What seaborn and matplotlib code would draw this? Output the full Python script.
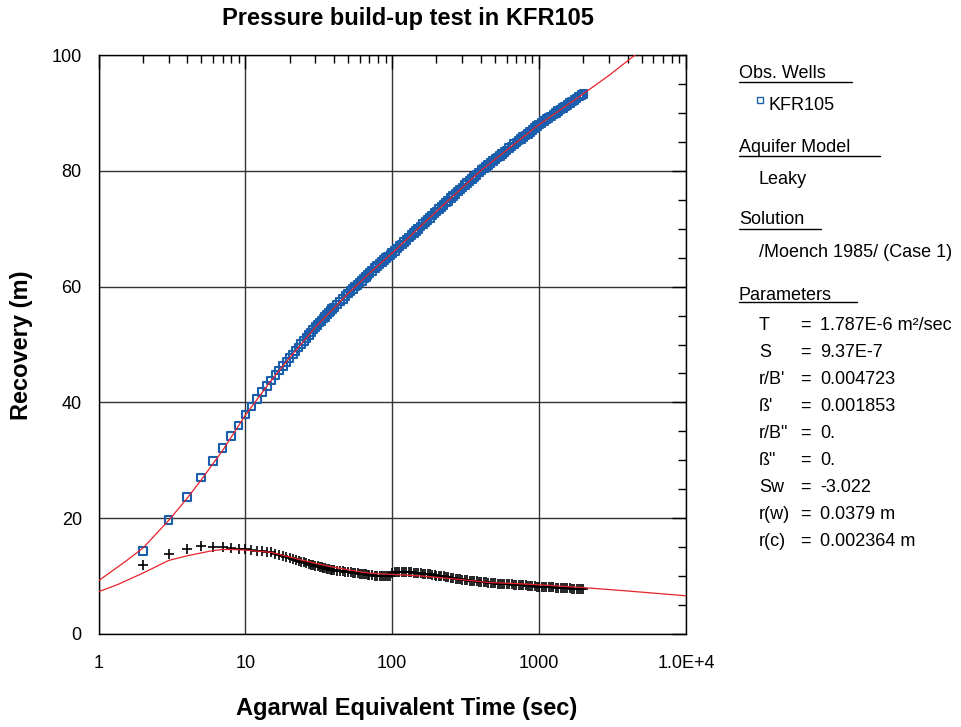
import numpy as np
import pandas as pd
import matplotlib
matplotlib.use("Agg")
import matplotlib.pyplot as plt
import seaborn as sns
from matplotlib.ticker import FixedLocator, LogLocator, MultipleLocator, NullFormatter
from matplotlib.lines import Line2D

# ---------------- data ----------------
obs_time = [2, 3, 4, 5, 6, 7, 8, 9, 10, 11, 12, 13, 14, 15, 16, 17, 18, 19,
            20, 21, 22, 23, 24, 25, 26, 27, 28, 29, 30, 31, 32, 33, 34, 35, 36,
            37, 38, 39, 40, 42, 44, 46, 48, 50, 52, 54, 56, 58, 60, 62, 64, 66,
            68, 70, 73, 76, 79, 82, 85, 88, 91, 94, 97, 100, 104, 108, 112, 116,
            120, 125, 130, 135, 140, 145, 150, 156, 162, 168, 174, 180, 187, 194,
            200, 208, 216, 224, 232, 240, 250, 260, 270, 280, 290, 300, 312, 324,
            336, 348, 360, 375, 390, 405, 420, 435, 450, 468, 486, 504, 522, 540,
            560, 580, 600, 625, 650, 675, 700, 725, 750, 780, 810, 840, 870, 900,
            935, 970, 1000, 1040, 1080, 1120, 1160, 1200, 1250, 1300, 1350, 1400,
            1450, 1500, 1560, 1620, 1680, 1740, 1800, 1870, 1940, 2000]
recovery = [14.3, 19.7, 23.7, 27.0, 29.9, 32.1, 34.2, 36.0, 37.9, 39.3, 40.6, 41.8,
            42.8, 43.8, 44.7, 45.5, 46.3, 47.0,
            47.7, 48.3, 48.9, 49.5, 50.1, 50.6, 51.1, 51.6, 52.1, 52.6, 53.0, 53.4,
            53.8, 54.1, 54.5, 54.8, 55.2, 55.5, 55.8, 56.1, 56.4, 56.9, 57.4, 57.9,
            58.4, 58.8, 59.2, 59.6, 60.0, 60.3, 60.7, 61.0, 61.4, 61.7, 62.0, 62.3,
            62.7, 63.2, 63.6, 63.9, 64.3, 64.6, 64.9, 65.2, 65.5, 65.8, 66.2, 66.6,
            67.0, 67.3, 67.7, 68.1, 68.5, 68.9, 69.3, 69.6, 70.0, 70.4, 70.8, 71.2,
            71.5, 71.9, 72.3, 72.7, 73.0, 73.4, 73.8, 74.1, 74.5, 74.8, 75.3, 75.7,
            76.0, 76.4, 76.8, 77.1, 77.5, 77.9, 78.2, 78.6, 78.9, 79.3, 79.7, 80.1,
            80.4, 80.7, 81.0, 81.3, 81.7, 82.0, 82.3, 82.6, 82.9, 83.2, 83.5, 83.9,
            84.2, 84.6, 84.9, 85.2, 85.5, 85.8, 86.1, 86.4, 86.7, 87.0, 87.4, 87.7,
            88.0, 88.3, 88.6, 88.9, 89.1, 89.4, 89.7, 90.0, 90.3, 90.6, 90.8, 91.1,
            91.4, 91.7, 92.0, 92.2, 92.5, 92.8, 93.1, 93.3]
derivative = [12.0, 13.8, 14.7, 15.2, 15.1, 15.0, 14.8, 14.7, 14.6, 14.5, 14.4, 14.3,
              14.2, 14.1, 13.9, 13.7, 13.5, 13.3,
              13.1, 12.95, 12.8, 12.65, 12.5, 12.35, 12.2, 12.1, 12.0, 11.9, 11.8,
              11.7, 11.6, 11.5, 11.4, 11.35, 11.3, 11.2, 11.1, 11.05, 11.0, 10.95,
              10.9, 10.8, 10.75, 10.7, 10.65, 10.6, 10.5, 10.45, 10.4, 10.35, 10.3,
              10.3, 10.25, 10.2, 10.15, 10.1, 10.0, 10.0, 10.0, 10.0, 10.0, 10.05,
              10.1, 10.6, 10.65, 10.7, 10.7, 10.7, 10.7, 10.7, 10.7, 10.65, 10.6,
              10.55, 10.5, 10.45, 10.4, 10.35, 10.3, 10.3, 10.25, 10.15, 10.1, 10.05,
              10.0, 9.95, 9.9, 9.8, 9.7, 9.6, 9.55, 9.5, 9.45, 9.4, 9.35, 9.3, 9.2,
              9.2, 9.15, 9.1, 9.05, 9.0, 8.95, 8.9, 8.85, 8.8, 8.75, 8.75, 8.7, 8.7,
              8.65, 8.6, 8.6, 8.55, 8.55, 8.5, 8.5, 8.45, 8.45, 8.4, 8.4, 8.35, 8.3,
              8.3, 8.25, 8.2, 8.2, 8.2, 8.15, 8.1, 8.1, 8.1, 8.05, 8.0, 8.0, 8.0,
              7.95, 7.9, 7.9, 7.9, 7.85, 7.8, 7.8, 7.75, 7.75, 7.7]

fit_time = [1, 1.5, 2, 3, 4, 5, 7, 10, 15, 20, 30, 50, 70, 100, 150, 200, 300,
            400, 700, 1000, 1500, 2000, 3000, 4500, 10000]
fit_recovery = [9.2, 12.4, 14.8, 19.6, 23.4, 26.6, 31.7, 37.8, 43.8, 47.7, 53.0,
                58.8, 62.3, 65.8, 70.0, 73.0, 77.1, 80.0, 84.9, 88.0, 91.1, 93.3,
                96.5, 100.0, 106.0]

dfit_time = [1, 1.34, 2, 3, 4, 5, 6, 7, 8, 10, 15, 20, 23, 30, 39, 50, 65, 80, 100,
             130, 160, 200, 265, 350, 450, 700, 1000, 1800, 3700, 10000]
fit_derivative = [7.3, 8.5, 10.5, 12.7, 13.5, 14.0, 14.4, 14.6, 14.6, 14.5, 14.1,
                  13.3, 12.9, 12.2, 11.6, 11.1, 10.6, 10.4, 10.3, 10.15, 10.0, 9.8,
                  9.5, 9.2, 8.9, 8.7, 8.5, 8.1, 7.5, 6.6]

x_tick_values = [1, 10, 100, 1000, 10000]
x_tick_labels = ["1", "10", "100", "1000", "1.0E+4"]
y_tick_values = [0, 20, 40, 60, 80, 100]

title = "Pressure build-up test in KFR105"
x_label = "Agarwal Equivalent Time (sec)"
y_label = "Recovery (m)"

panel_headers = ["Obs. Wells", "Aquifer Model", "Solution", "Parameters"]
well_name = "KFR105"
aquifer_model = "Leaky"
solution_name = "/Moench 1985/ (Case 1)"
param_names = ["T", "S", "r/B'", "ß'", 'r/B"', 'ß"', "Sw", "r(w)", "r(c)"]
param_values = ["1.787E-6 m\u00b2/sec", "9.37E-7", "0.004723", "0.001853", "0.",
                "0.", "-3.022", "0.0379 m", "0.002364 m"]

# ---------------- style ----------------
sns.set_style("white")
plt.rcParams['font.family'] = ['Liberation Sans', 'DejaVu Sans']
plt.rcParams['text.color'] = 'black'
plt.rcParams['axes.labelcolor'] = 'black'
plt.rcParams['xtick.color'] = 'black'
plt.rcParams['ytick.color'] = 'black'

BLUE = "#1a5fae"
RED = "#e8222a"
W, H = 962, 727

fig = plt.figure(figsize=(W / 100, H / 100), dpi=100)
L, R, T, B = 98.5, 686, 55, 634
ax = fig.add_axes([L / W, 1 - B / H, (R - L) / W, (B - T) / H])
ax.set_xscale("log")

obs = pd.DataFrame({"t": obs_time, "s": recovery, "d": derivative})
fit1 = pd.DataFrame({"t": fit_time, "s": fit_recovery})
fit2 = pd.DataFrame({"t": dfit_time, "d": fit_derivative})

sns.scatterplot(data=obs, x="t", y="s", ax=ax, marker="s", s=30,
                facecolor="none", edgecolor=BLUE, linewidth=1.5, legend=False, zorder=3)
sns.scatterplot(data=obs, x="t", y="d", ax=ax, marker="+", s=50,
                color="black", linewidth=1.2, legend=False, zorder=3)
sns.lineplot(data=fit1, x="t", y="s", ax=ax, color=RED, lw=0.9,
             estimator=None, sort=False, zorder=4)
sns.lineplot(data=fit2, x="t", y="d", ax=ax, color=RED, lw=0.9,
             estimator=None, sort=False, zorder=4)

ax.set_xlim(1, 10000)
ax.set_ylim(0, 100)
ax.xaxis.set_major_locator(FixedLocator(x_tick_values))
ax.set_xticklabels(x_tick_labels)
ax.xaxis.set_minor_locator(LogLocator(base=10, subs=np.arange(2, 10)))
ax.xaxis.set_minor_formatter(NullFormatter())
ax.yaxis.set_major_locator(FixedLocator(y_tick_values))
ax.yaxis.set_minor_locator(MultipleLocator(5))
ax.set_xlabel("")
ax.set_ylabel("")

ax.set_axisbelow(True)
ax.grid(True, which="major", color="#333333", lw=1.0)
ax.tick_params(which="both", direction="in", top=True, right=True,
               colors="black", width=1.0, labelsize=13)
ax.tick_params(which="major", length=10)
ax.tick_params(which="minor", length=5.5)
ax.tick_params(axis="x", pad=15)
ax.tick_params(axis="y", pad=12)
for sp in ax.spines.values():
    sp.set_color("black")
    sp.set_linewidth(1.0)

fig.text(408 / W, 1 - 19 / H, title, ha="center", va="center",
         fontsize=17, fontweight="bold")
fig.text(407 / W, 1 - 708 / H, x_label, ha="center", va="center",
         fontsize=17, fontweight="bold")
fig.text(22 / W, 1 - 345 / H, y_label, ha="center", va="center",
         rotation=90, fontsize=17, fontweight="bold")

# ---------------- right-hand info panel ----------------
FS = 13
hx, ix = 739, 759
header_y = [73, 147, 219, 295]
underline_y = [82, 156, 229, 302]
underline_end = [852, 880, 821, 857]
for txt, yy, uy, ue in zip(panel_headers, header_y, underline_y, underline_end):
    fig.text(hx / W, 1 - yy / H, txt, ha="left", va="center", fontsize=FS)
    fig.add_artist(Line2D([hx / W, ue / W], [1 - uy / H, 1 - uy / H],
                          color="black", lw=1.0, transform=fig.transFigure))

fig.add_artist(Line2D([760 / W], [1 - 100 / H], marker="s", markersize=4,
                      markerfacecolor="none", markeredgecolor=BLUE,
                      markeredgewidth=1.0, linestyle="none",
                      transform=fig.transFigure))
fig.text(769 / W, 1 - 105 / H, well_name, ha="left", va="center", fontsize=FS)
fig.text(ix / W, 1 - 179 / H, aquifer_model, ha="left", va="center", fontsize=FS)
fig.text(ix / W, 1 - 252 / H, solution_name, ha="left", va="center", fontsize=FS)

for i, (nm, val) in enumerate(zip(param_names, param_values)):
    yy = 325 + 27.1 * i
    fig.text(ix / W, 1 - yy / H, nm, ha="left", va="center", fontsize=FS)
    fig.text(805 / W, 1 - yy / H, "=", ha="center", va="center", fontsize=FS)
    fig.text(820 / W, 1 - yy / H, val, ha="left", va="center", fontsize=FS)

fig.savefig("out.png", dpi=100)
